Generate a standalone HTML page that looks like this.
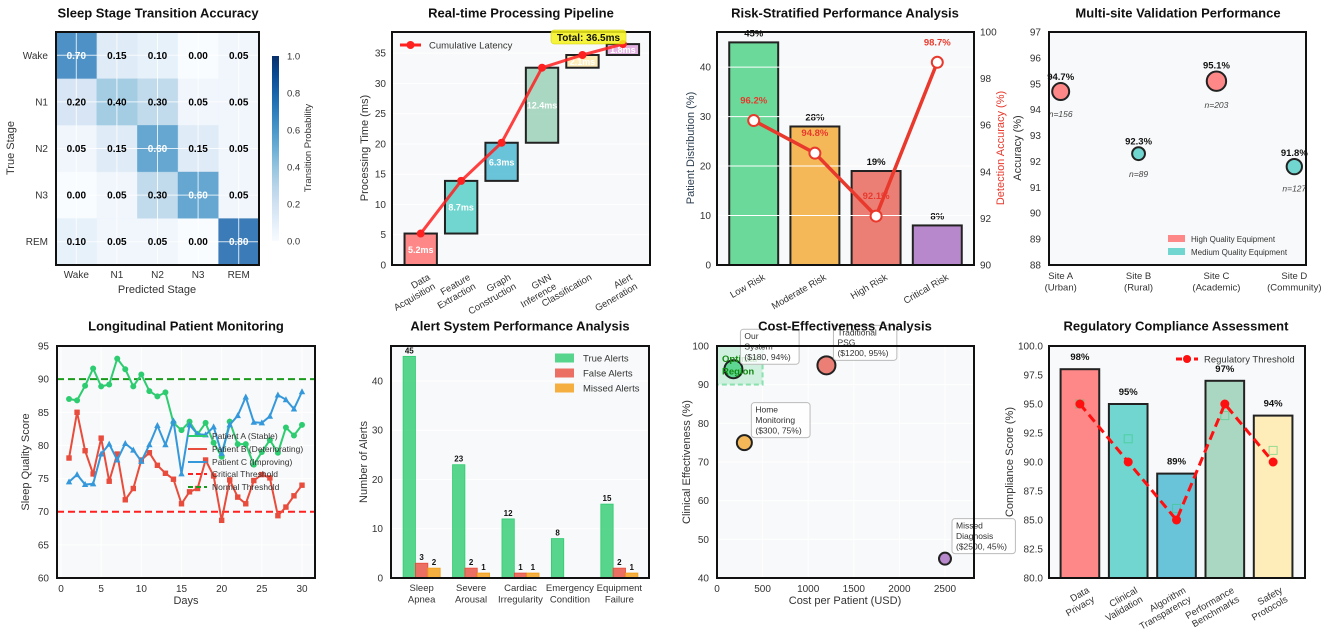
<!DOCTYPE html>
<html><head><meta charset="utf-8"><style>
html,body{margin:0;padding:0;background:#fff;}
svg{display:block;font-family:"Liberation Sans",Arial,sans-serif;}
</style></head><body>
<svg id="fig" width="1325" height="635" viewBox="0 0 1325 635" xmlns="http://www.w3.org/2000/svg"></svg>
<script>
// ---------- DATA ----------
const stages = ['Wake','N1','N2','N3','REM'];
const transMatrix = [
 [0.70,0.15,0.10,0.00,0.05],
 [0.20,0.40,0.30,0.05,0.05],
 [0.05,0.15,0.60,0.15,0.05],
 [0.00,0.05,0.30,0.60,0.05],
 [0.10,0.05,0.05,0.00,0.80]];
const pipeSteps = ['Data\nAcquisition','Feature\nExtraction','Graph\nConstruction','GNN\nInference','Classification','Alert\nGeneration'];
const pipeTimes = [5.2,8.7,6.3,12.4,2.1,1.8];
const pipeTicks = [0,5,10,15,20,25,30,35];
const riskCats = ['Low Risk','Moderate Risk','High Risk','Critical Risk'];
const riskDist = [45,28,19,8];
const riskAcc = [96.2,94.8,92.1,98.7];
const riskTicksL = [0,10,20,30,40];
const riskTicksR = [90,92,94,96,98,100];
const sites = ['Site A\n(Urban)','Site B\n(Rural)','Site C\n(Academic)','Site D\n(Community)'];
const siteAcc = [94.7,92.3,95.1,91.8];
const siteN = [156,89,203,127];
const siteHigh = [true,false,true,false];
const siteTicks = [88,89,90,91,92,93,94,95,96,97];
const days = [1,2,3,4,5,6,7,8,9,10,11,12,13,14,15,16,17,18,19,20,21,22,23,24,25,26,27,28,29,30];
const patientA = [87.0,86.8,89.0,91.6,88.9,89.2,93.1,91.5,88.9,90.7,88.2,87.4,88.0,83.4,82.3,83.6,81.7,83.4,80.4,78.3,83.6,80.2,80.2,77.1,79.0,80.8,78.9,82.7,81.5,83.1];
const patientB = [78.1,85.0,79.2,75.7,81.1,74.6,78.7,71.8,73.5,77.8,78.9,77.0,75.8,74.9,71.2,73.0,73.5,77.8,75.4,68.7,74.8,72.2,71.2,74.7,75.6,75.1,69.4,70.7,72.4,74.0];
const patientC = [74.5,75.6,74.1,74.2,78.7,80.2,77.8,80.3,79.3,77.6,80.1,83.0,80.1,83.7,75.7,83.1,81.7,81.6,82.8,78.8,83.1,84.5,87.3,83.5,83.4,84.4,87.6,86.9,85.5,88.1];
const dayTicks = [0,5,10,15,20,25,30];
const scoreTicks = [60,65,70,75,80,85,90,95];
const alertCats = ['Sleep\nApnea','Severe\nArousal','Cardiac\nIrregularity','Emergency\nCondition','Equipment\nFailure'];
const trueAlerts = [45,23,12,8,15];
const falseAlerts = [3,2,1,0,2];
const missedAlerts = [2,1,1,0,1];
const alertTicks = [0,10,20,30,40];
const costLabels = ['Our\nSystem\n($180, 94%)','Traditional\nPSG\n($1200, 95%)','Home\nMonitoring\n($300, 75%)','Missed\nDiagnosis\n($2500, 45%)'];
const costs = [180,1200,300,2500];
const effect = [94,95,75,45];
const costTicks = [0,500,1000,1500,2000,2500];
const effTicks = [40,50,60,70,80,90,100];
const compCats = ['Data\nPrivacy','Clinical\nValidation','Algorithm\nTransparency','Performance\nBenchmarks','Safety\nProtocols'];
const compScores = [98,95,89,97,94];
const compThresh = [95,90,85,95,90];
const compMarks = [95,92,86,94,91];
const compTicks = [80.0,82.5,85.0,87.5,90.0,92.5,95.0,97.5,100.0];

// ---------- HELPERS ----------
const NS='http://www.w3.org/2000/svg';
const fig=document.getElementById('fig');
function mk(tag,attrs,parent){const e=document.createElementNS(NS,tag);for(const k in attrs)e.setAttribute(k,attrs[k]);(parent||fig).appendChild(e);return e;}
function txt(parent,x,y,s,attrs){const a=Object.assign({x:x,y:y,'font-size':10,fill:'#333'},attrs||{});const t=mk('text',a,parent);const lines=String(s).split('\n');if(lines.length===1){t.textContent=s;}else{const lh=a.lh||1.15;lines.forEach((l,i)=>{const ts=mk('tspan',{x:x,dy:i===0?0:(a['font-size']*lh)},t);ts.textContent=l;});}return t;}
function lin(d0,d1,r0,r1){return v=>r0+(v-d0)*(r1-r0)/(d1-d0);}
function frame(g,b,bg){const r=mk('rect',{x:b.x0,y:b.y0,width:b.x1-b.x0,height:b.y1-b.y0,fill:bg||'#f8f9fa'},g);return r;}
function border(g,b){const r=mk('rect',{x:b.x0,y:b.y0,width:b.x1-b.x0,height:b.y1-b.y0,fill:'none',stroke:'#111','stroke-width':2},g);}
function title(x,y,s){const t=txt(fig,x,y,s,{'font-size':13,'font-weight':'bold',fill:'#111','text-anchor':'middle','dominant-baseline':'middle'});return t;}
function ylab(g,x,y,s,col){const t=txt(g,x,y,s,{'font-size':11,fill:col||'#333','text-anchor':'middle',transform:`rotate(-90 ${x} ${y})`});return t;}
function xlab(g,x,y,s){const t=txt(g,x,y,s,{'font-size':11,fill:'#333','text-anchor':'middle'});return t;}
function yticks(g,ticks,sy,x,fmt,grid,b){ticks.forEach(v=>{if(grid){const l=mk('line',{x1:b.x0,x2:b.x1,y1:sy(v),y2:sy(v),stroke:'#fff','stroke-width':1},g);}const t=txt(g,x,sy(v)+3.5,fmt?fmt(v):v,{'font-size':10,'text-anchor':'end'});});}
function xticksNum(g,ticks,sx,y,grid,b){ticks.forEach(v=>{if(grid){const l=mk('line',{x1:sx(v),x2:sx(v),y1:b.y0,y2:b.y1,stroke:'#fff','stroke-width':1},g);}const t=txt(g,sx(v),y,v,{'font-size':10,'text-anchor':'middle'});});}
function rotLabel(g,x,y,s){const t=txt(g,x,y,s,{'font-size':9.5,'text-anchor':'end',transform:`rotate(-30 ${x} ${y})`,lh:1.1});return t;}
function panel(name){const g=mk('g',{});return g;}

const blues=[[0,[247,251,255]],[0.125,[222,235,247]],[0.25,[198,219,239]],[0.375,[158,202,225]],[0.5,[107,174,214]],[0.625,[66,146,198]],[0.75,[33,113,181]],[0.875,[8,81,156]],[1,[8,48,107]]];
function bluesC(v){for(let i=0;i<blues.length-1;i++){const a=blues[i],b=blues[i+1];if(v<=b[0]){const t=(v-a[0])/(b[0]-a[0]);const c=a[1].map((x,j)=>Math.round(x+(b[1][j]-x)*t));return `rgb(${c[0]},${c[1]},${c[2]})`;}}return 'rgb(8,48,107)';}

// ---------- PANEL 1 ----------
(function(){
 const g=panel('sleep-transition-heatmap');
 title(158,14,'Sleep Stage Transition Accuracy');
 const b={x0:56,x1:259,y0:32,y1:265};
 const cw=(b.x1-b.x0)/5, ch=(b.y1-b.y0)/5;
 transMatrix.forEach((row,i)=>row.forEach((v,j)=>{
  const r=mk('rect',{x:b.x0+j*cw,y:b.y0+i*ch,width:cw+0.5,height:ch+0.5,fill:bluesC(v),'fill-opacity':0.85},g);
  
  
 }));
 for(let k=0;k<5;k++){
  const l1=mk('line',{x1:b.x0+(k+0.5)*cw,x2:b.x0+(k+0.5)*cw,y1:b.y0,y2:b.y1,stroke:'#fff','stroke-width':1,'stroke-opacity':0.8},g);
  
  const l2=mk('line',{x1:b.x0,x2:b.x1,y1:b.y0+(k+0.5)*ch,y2:b.y0+(k+0.5)*ch,stroke:'#fff','stroke-width':1,'stroke-opacity':0.8},g);
  
 }
 transMatrix.forEach((row,i)=>row.forEach((v,j)=>{
  const t=txt(g,b.x0+(j+0.5)*cw,b.y0+(i+0.5)*ch+3.5,v.toFixed(2),{'font-size':10,'font-weight':'bold','text-anchor':'middle',fill:v>0.5?'#fff':'#000'});
  
  
 }));
 border(g,b);
 stages.forEach((s,i)=>{
  const t=txt(g,b.x0-8,b.y0+(i+0.5)*ch+3.5,s,{'text-anchor':'end','font-size':10});
  
  const t2=txt(g,b.x0+(i+0.5)*cw,b.y1+13,s,{'text-anchor':'middle','font-size':10});
  
 });
 ylab(g,14,148,'True Stage');
 xlab(g,157,293,'Predicted Stage');
 const defs=mk('defs',{},g);
 const lg=mk('linearGradient',{id:'bluesGrad',x1:0,y1:1,x2:0,y2:0},defs);
 for(let k=0;k<=10;k++){mk('stop',{offset:k/10,'stop-color':bluesC(k/10)},lg);}
 const cb=mk('rect',{x:272,y:56,width:7,height:185,fill:'url(#bluesGrad)'},g);
 
 const cs=lin(0,1,241,56);
 [0,0.2,0.4,0.6,0.8,1.0].forEach(v=>{const t=txt(g,287,cs(v)+3.5,v.toFixed(1),{'font-size':9.5});});
 const cl=txt(g,311,148,'Transition Probability',{'font-size':9.5,'text-anchor':'middle',transform:'rotate(-90 311 148)'});
 
})();

// ---------- PANEL 2 ----------
(function(){
 const g=panel('processing-pipeline-chart');
 title(521,14,'Real-time Processing Pipeline');
 const b={x0:392,x1:650,y0:32,y1:265};
 const sx=lin(-0.71,5.67,b.x0,b.x1), sy=lin(0,38.5,b.y1,b.y0);
 frame(g,b);
 yticks(g,pipeTicks,sy,b.x0-6,null,true,b);
 const cols=['#FF6B6B','#4ECDC4','#45B7D1','#96CEB4','#FFEAA7','#DDA0DD'];
 let cum=0; const pts=[];
 pipeTimes.forEach((v,i)=>{
  const r=mk('rect',{x:sx(i-0.4),y:sy(cum+v),width:sx(0.4)-sx(-0.4),height:sy(cum)-sy(cum+v),fill:cols[i],'fill-opacity':0.8,stroke:'#222','stroke-width':2},g);
  
  const t=txt(g,sx(i),sy(cum+v/2)+3.5,v+'ms',{'font-size':9,'font-weight':'bold',fill:'#fff','text-anchor':'middle'});
  
  cum+=v; pts.push([sx(i),sy(cum)]);
 });
 const pl=mk('polyline',{points:pts.map(p=>p.join(',')).join(' '),fill:'none',stroke:'#ff2020','stroke-opacity':0.85,'stroke-width':3},g);
 
 pts.forEach(p=>{const c=mk('circle',{cx:p[0],cy:p[1],r:4,fill:'#ff2020'},g);});
 border(g,b);
 pipeSteps.forEach((s,i)=>rotLabel(g,sx(i)+10,b.y1+14,s));
 ylab(g,368,148,'Processing Time (ms)');
 const ll=mk('line',{x1:400,x2:421,y1:45,y2:45,stroke:'#ff2020','stroke-width':3},g);
 
 const lc=mk('circle',{cx:410.5,cy:45,r:4,fill:'#ff2020'},g);
 
 const lt=txt(g,429,48.5,'Cumulative Latency',{'font-size':9.5});
 
 const tb=mk('rect',{x:551,y:30,width:75,height:14,rx:3,fill:'#f4f21a','fill-opacity':0.85,stroke:'#cccc00','stroke-width':0.5},g);
 
 const tt=txt(g,588.5,41,'Total: '+cum.toFixed(1)+'ms',{'font-size':10,'font-weight':'bold',fill:'#111','text-anchor':'middle'});
 
})();

// ---------- PANEL 3 ----------
(function(){
 const g=panel('risk-stratified-chart');
 title(845,14,'Risk-Stratified Performance Analysis');
 const b={x0:717,x1:974,y0:32,y1:265};
 const sx=lin(-0.6,3.6,b.x0,b.x1), sy=lin(0,47.1,b.y1,b.y0), sy2=lin(90,100,b.y1,b.y0);
 frame(g,b);
 const cols=['#2ecc71','#f39c12','#e74c3c','#9b59b6'];
 riskDist.forEach((v,i)=>{
  const r=mk('rect',{x:sx(i-0.4),y:sy(v),width:sx(0.4)-sx(-0.4),height:sy(0)-sy(v),fill:cols[i],'fill-opacity':0.7,stroke:'#222','stroke-width':2},g);
  
  const t=txt(g,sx(i),sy(v)-6,v+'%',{'font-size':9.5,'font-weight':'bold',fill:'#111','text-anchor':'middle'});
  
 });
 yticks(g,riskTicksL,sy,b.x0-6,null,true,b);
 riskTicksR.forEach(v=>{const t=txt(g,b.x1+6,sy2(v)+3.5,v,{'font-size':10});});
 const pts=riskAcc.map((v,i)=>[sx(i),sy2(v)]);
 const pl=mk('polyline',{points:pts.map(p=>p.join(',')).join(' '),fill:'none',stroke:'#e8392c','stroke-width':3.5},g);
 
 pts.forEach((p,i)=>{
  const c=mk('circle',{cx:p[0],cy:p[1],r:5.5,fill:'#fff',stroke:'#e8392c','stroke-width':2},g);
  
  const t=txt(g,p[0],p[1]-17,riskAcc[i]+'%',{'font-size':9.5,'font-weight':'bold',fill:'#e8392c','text-anchor':'middle'});
  
 });
 border(g,b);
 riskCats.forEach((s,i)=>rotLabel(g,sx(i)+12,b.y1+14,s));
 ylab(g,694,148,'Patient Distribution (%)','#2c3e50');
 const t=txt(g,1004,148,'Detection Accuracy (%)',{'font-size':11,fill:'#e8392c','text-anchor':'middle',transform:'rotate(-90 1004 148)'});
 
})();

// ---------- PANEL 4 ----------
(function(){
 const g=panel('multisite-validation-chart');
 title(1178,14,'Multi-site Validation Performance');
 const b={x0:1049,x1:1306,y0:32,y1:265};
 const sx=lin(-0.15,3.15,b.x0,b.x1), sy=lin(88,97,b.y1,b.y0);
 frame(g,b);
 yticks(g,siteTicks,sy,b.x0-8,null,false,b);
 siteAcc.forEach((v,i)=>{
  const rad=Math.sqrt(siteN[i])*0.68;
  const c=mk('circle',{cx:sx(i),cy:sy(v),r:rad,fill:siteHigh[i]?'#FF6B6B':'#4ECDC4','fill-opacity':0.8,stroke:'#222','stroke-width':2},g);
  
  const t=txt(g,sx(i),sy(v)-rad-3,v+'%',{'font-size':9.5,'font-weight':'bold',fill:'#111','text-anchor':'middle'});
  
  const n=txt(g,sx(i),sy(v)+rad+17,'n='+siteN[i],{'font-size':8.5,'font-style':'italic',fill:'#444','text-anchor':'middle'});
  
 });
 border(g,b);
 sites.forEach((s,i)=>{const t=txt(g,sx(i),b.y1+14,s,{'font-size':9.5,'text-anchor':'middle',lh:1.2});});
 ylab(g,1021,148,'Accuracy (%)');
 [['High Quality Equipment','#FF6B6B',239],['Medium Quality Equipment','#4ECDC4',252]].forEach(e=>{
  const r=mk('rect',{x:1168,y:e[2]-4,width:17,height:7,fill:e[1],'fill-opacity':0.8},g);
  
  const t=txt(g,1191,e[2]+3,e[0],{'font-size':8});
  
 });
})();

// ---------- PANEL 5 ----------
(function(){
 const g=panel('longitudinal-monitoring-chart');
 title(186,327,'Longitudinal Patient Monitoring');
 const b={x0:57,x1:315,y0:346,y1:578};
 const sx=lin(0,30,61,302), sy=lin(60,95,b.y1,b.y0);
 frame(g,b);
 yticks(g,scoreTicks,sy,b.x0-8,null,true,b);
 xticksNum(g,dayTicks,sx,b.y1+14,true,b);
 const t1=mk('line',{x1:b.x0,x2:b.x1,y1:sy(70),y2:sy(70),stroke:'#ff2020','stroke-width':2,'stroke-dasharray':'7,4'},g);
 
 const t2=mk('line',{x1:b.x0,x2:b.x1,y1:sy(90),y2:sy(90),stroke:'#1a9a1a','stroke-width':2,'stroke-dasharray':'7,4'},g);
 
 const series=[[patientA,'#2ecc71','circle','patient-a-line'],[patientB,'#e74c3c','square','patient-b-line'],[patientC,'#3498db','triangle','patient-c-line']];
 series.forEach(s=>{
  const pts=s[0].map((v,i)=>[sx(days[i]),sy(v)]);
  const pl=mk('polyline',{points:pts.map(p=>p.join(',')).join(' '),fill:'none',stroke:s[1],'stroke-width':2},g);
  
  pts.forEach(p=>{
   let m;
   if(s[2]==='circle') m=mk('circle',{cx:p[0],cy:p[1],r:3,fill:s[1]},g);
   else if(s[2]==='square') m=mk('rect',{x:p[0]-2.7,y:p[1]-2.7,width:5.4,height:5.4,fill:s[1]},g);
   else m=mk('polygon',{points:`${p[0]},${p[1]-3.5} ${p[0]-3.2},${p[1]+2.5} ${p[0]+3.2},${p[1]+2.5}`,fill:s[1]},g);
   
  });
 });
 border(g,b);
 ylab(g,29,462,'Sleep Quality Score');
 xlab(g,186,604,'Days');
 const leg=[['Patient A (Stable)','#2ecc71','circle',436],['Patient B (Deteriorating)','#e74c3c','square',449],['Patient C (Improving)','#3498db','triangle',462],['Critical Threshold','#ff2020','dash',474],['Normal Threshold','#1a9a1a','dash',487]];
 leg.forEach(e=>{
  const l=mk('line',{x1:188,x2:207,y1:e[3],y2:e[3],stroke:e[1],'stroke-width':2,'stroke-dasharray':e[2]==='dash'?'5,3':'none'},g);
  
  const tt=txt(g,212,e[3]+3,e[0],{'font-size':8.5,fill:'#333'});
  
 });
})();

// ---------- PANEL 6 ----------
(function(){
 const g=panel('alert-performance-chart');
 title(520,327,'Alert System Performance Analysis');
 const b={x0:391,x1:649,y0:346,y1:578};
 const sx=lin(-0.62,4.6,b.x0,b.x1), sy=lin(0,47.1,b.y1,b.y0);
 frame(g,b);
 yticks(g,alertTicks,sy,b.x0-8,null,true,b);
 const bw=0.25;
 const groups=[[trueAlerts,'#2ecc71',-bw,'true-alert-bar'],[falseAlerts,'#e74c3c',0,'false-alert-bar'],[missedAlerts,'#f39c12',bw,'missed-alert-bar']];
 groups.forEach(gp=>gp[0].forEach((v,i)=>{
  if(v<=0) return;
  const r=mk('rect',{x:sx(i+gp[2]-bw/2),y:sy(v),width:sx(bw)-sx(0),height:sy(0)-sy(v),fill:gp[1],'fill-opacity':0.8,stroke:gp[1],'stroke-width':0.8},g);
  
  const t=txt(g,sx(i+gp[2]),sy(v)-3,v,{'font-size':8,'font-weight':'bold',fill:'#111','text-anchor':'middle'});
  
 }));
 border(g,b);
 alertCats.forEach((s,i)=>{const t=txt(g,sx(i),b.y1+13,s,{'font-size':9.5,'text-anchor':'middle',lh:1.2});});
 ylab(g,367,462,'Number of Alerts');
 [['True Alerts','#2ecc71',358],['False Alerts','#e74c3c',373],['Missed Alerts','#f39c12',388]].forEach(e=>{
  const r=mk('rect',{x:555,y:e[2]-4.5,width:19,height:9,fill:e[1],'fill-opacity':0.8},g);
  
  const t=txt(g,583,e[2]+3.5,e[0],{'font-size':9.5});
  
 });
})();

// ---------- PANEL 7 ----------
(function(){
 const g=panel('cost-effectiveness-chart');
 const b={x0:717,x1:974,y0:346,y1:578};
 const sx=lin(0,2818,b.x0,b.x1), sy=lin(40,100,b.y1,b.y0);
 frame(g,b);
 yticks(g,effTicks,sy,b.x0-8,null,true,b);
 xticksNum(g,costTicks,sx,b.y1+14,true,b);
 const opt=mk('rect',{x:sx(0),y:sy(100),width:sx(500)-sx(0),height:sy(90)-sy(100),fill:'#2ecc71','fill-opacity':0.2,stroke:'#2ecc71','stroke-opacity':0.5,'stroke-width':2,'stroke-dasharray':'5,3'},g);
 
 const cols=['#2ecc71','#e74c3c','#f39c12','#9b59b6'];
 const rads=[9,9,7.5,6];
 costs.forEach((c,i)=>{
  const p=mk('circle',{cx:sx(c),cy:sy(effect[i]),r:rads[i],fill:cols[i],'fill-opacity':0.7,stroke:'#222','stroke-width':2},g);
  
 });
 const ot=txt(g,722,362,'Optimal\nRegion',{'font-size':9.5,'font-weight':'bold',fill:'#118811',lh:1.3});
 
 costs.forEach((c,i)=>{
  const x=sx(c)+7, y=sy(effect[i])-40;
  const maxLen=Math.max(...costLabels[i].split('\n').map(l=>l.length));
  const bx=mk('rect',{x:x,y:y,width:maxLen*4.7+7,height:35,rx:3,fill:'#fff','fill-opacity':0.8,stroke:'#bbb','stroke-width':1},g);
  
  const t=txt(g,x+4,y+10,costLabels[i],{'font-size':8.5,fill:'#333',lh:1.22});
  
 });
 border(g,b);
 title(845,327,'Cost-Effectiveness Analysis');
 ylab(g,690,462,'Clinical Effectiveness (%)');
 xlab(g,845,604,'Cost per Patient (USD)');
})();

// ---------- PANEL 8 ----------
(function(){
 const g=panel('regulatory-compliance-chart');
 title(1176,327,'Regulatory Compliance Assessment');
 const b={x0:1049,x1:1305,y0:346,y1:578};
 const sx=lin(-0.64,4.66,b.x0,b.x1), sy=lin(80,100,b.y1,b.y0);
 frame(g,b);
 yticks(g,compTicks,sy,b.x0-6,v=>v.toFixed(1),false,b);
 const cols=['#FF6B6B','#4ECDC4','#45B7D1','#96CEB4','#FFEAA7'];
 compScores.forEach((v,i)=>{
  const r=mk('rect',{x:sx(i-0.4),y:sy(v),width:sx(0.4)-sx(-0.4),height:sy(80)-sy(v),fill:cols[i],'fill-opacity':0.8,stroke:'#222','stroke-width':2},g);
  
  const t=txt(g,sx(i),sy(v)-9,v+'%',{'font-size':9.5,'font-weight':'bold',fill:'#111','text-anchor':'middle'});
  
  const m=mk('rect',{x:sx(i)-4,y:sy(compMarks[i])-4,width:8,height:8,fill:'none',stroke:'#2ecc71','stroke-opacity':0.5,'stroke-width':1},g);
  
 });
 const pts=compThresh.map((v,i)=>[sx(i),sy(v)]);
 const pl=mk('polyline',{points:pts.map(p=>p.join(',')).join(' '),fill:'none',stroke:'#ff1010','stroke-width':3,'stroke-dasharray':'9,5'},g);
 
 pts.forEach(p=>{const c=mk('circle',{cx:p[0],cy:p[1],r:4.5,fill:'#ff1010'},g);});
 border(g,b);
 compCats.forEach((s,i)=>rotLabel(g,sx(i)+10,b.y1+14,s));
 ylab(g,1013,462,'Compliance Score (%)');
 const ll=mk('line',{x1:1176,x2:1198,y1:359,y2:359,stroke:'#ff1010','stroke-width':3,'stroke-dasharray':'6,3'},g);
 
 const lc=mk('circle',{cx:1187,cy:359,r:4,fill:'#ff1010'},g);
 
 const lt=txt(g,1204,362.5,'Regulatory Threshold',{'font-size':9.5});
 
})();
</script>
</body></html>
